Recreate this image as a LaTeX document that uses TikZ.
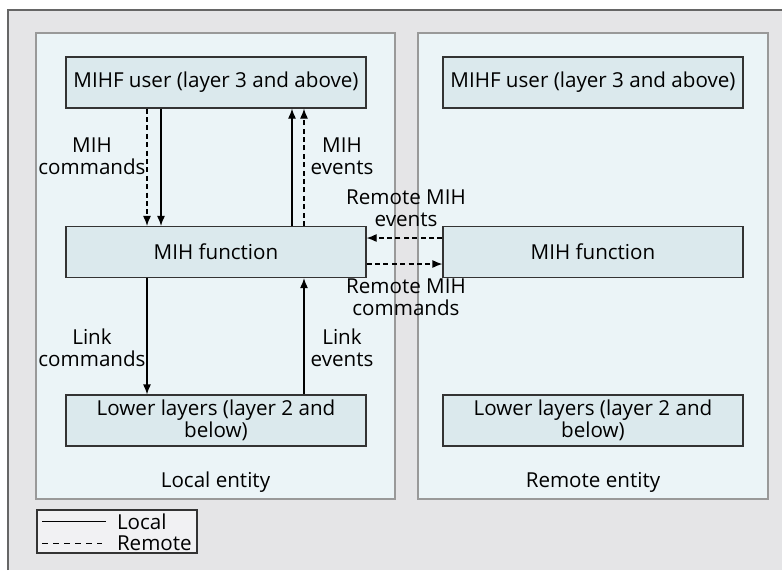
\documentclass[tikz,border=0pt]{standalone}
\usepackage{fontspec}
\setmainfont{Open Sans}
\usetikzlibrary{arrows.meta}
\definecolor{framegray}{HTML}{E5E5E7}
\definecolor{panelblue}{HTML}{EBF4F7}
\definecolor{boxblue}{HTML}{DBE9ED}
\definecolor{legendgray}{HTML}{F1F1F3}
\tikzset{
  box/.style={draw=black!80, fill=boxblue, semithick, minimum width=150pt, minimum height=25.5pt, align=center, inner sep=1pt},
  panel/.style={draw=black!40, fill=panelblue, semithick},
  lbl/.style={align=center, inner sep=0pt},
  remote/.style={dash pattern=on 2.5pt off 1.7pt}
}
\begin{document}
\begin{tikzpicture}[>={Latex[length=5pt,width=4pt]}, x=0.5pt, y=-0.5pt, font=\fontsize{10.3}{10.8}\selectfont, semithick]
\useasboundingbox (0,0) rectangle (782,570);

% background and entities
\fill[framegray](8,10) rectangle (782,570);
\draw[black!60](8,570)--(8,10)--(782,10);
\draw[panel](36,33) rectangle (395,499);
\draw[panel](418,33) rectangle (768,499);

% local entity
\node[box] (luser) at (216,82.5) {MIHF user (layer 3 and above)};
\node[box] (lfun) at (216,252) {MIH function};
\node[box] (llow) at (216,420.5) {Lower layers (layer 2 and\\below)};
\node[lbl] (lname) at (215.5,482) {Local entity};

% remote entity
\node[box] (ruser) at (593,82.5) {MIHF user (layer 3 and above)};
\node[box] (rfun) at (593,252) {MIH function};
\node[box] (rlow) at (593,420.5) {Lower layers (layer 2 and\\below)};
\node[lbl] (rname) at (593,482) {Remote entity};

% MIH commands and events
\draw[->, remote]([xshift=-34.5pt]luser.south)--([xshift=-34.5pt]lfun.north);
\draw[->]([xshift=-27.5pt]luser.south)--([xshift=-27.5pt]lfun.north);
\draw[->]([xshift=38pt]lfun.north)--([xshift=38pt]luser.south);
\draw[->, remote]([xshift=44pt]lfun.north)--([xshift=44pt]luser.south);
\node[lbl] (mihcmd) at (92,156) {MIH\\commands};
\node[lbl] (mihevt) at (342,156) {MIH\\events};

% link commands and events
\draw[->]([xshift=-34.5pt]lfun.south)--([xshift=-34.5pt]llow.north);
\draw[->]([xshift=44pt]llow.north)--([xshift=44pt]lfun.south);
\node[lbl] (lnkcmd) at (92,348) {Link\\commands};
\node[lbl] (lnkevt) at (342,348) {Link\\events};

% remote MIH commands and events
\draw[->, remote]([yshift=7pt]rfun.west)--([yshift=7pt]lfun.east);
\draw[->, remote]([yshift=-6pt]lfun.east)--([yshift=-6pt]rfun.west);
\node[lbl] (remevt) at (406,208) {Remote MIH\\events};
\node[lbl] (remcmd) at (406,297) {Remote MIH\\commands};

% legend
\node[draw=black!80, fill=legendgray, minimum width=80pt, minimum height=21.5pt, inner sep=0pt] (legend) at (117,531.5) {};
\draw([xshift=3pt, yshift=5pt]legend.west)--++(64,0)node[right, inner sep=5pt](lloc){Local};
\draw[dash pattern=on 3pt off 2.5pt]([xshift=3pt, yshift=-6pt]legend.west)--++(60,0)node[right, inner sep=7pt](lrem){Remote};
\end{tikzpicture}
\end{document}
